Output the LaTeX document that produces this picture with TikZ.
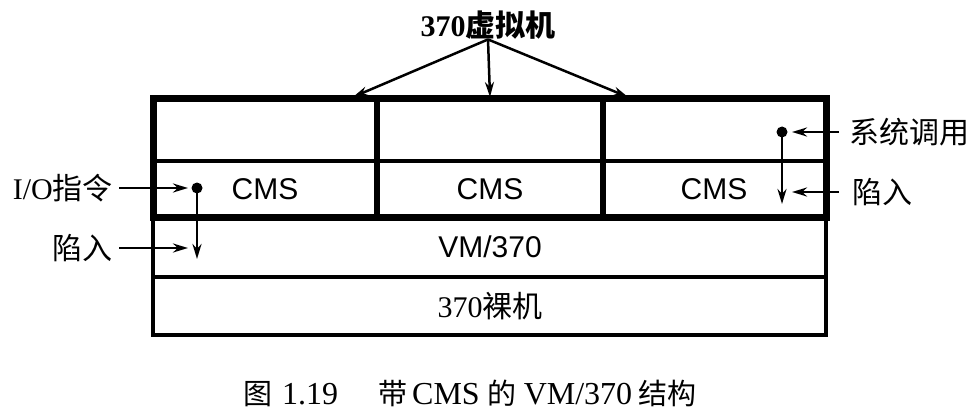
\documentclass[tikz,border=0pt]{standalone}
\usepackage{fontspec}
\setmainfont{Liberation Serif}
\setsansfont{Liberation Sans}
\newfontfamily\cjk{Noto Sans CJK SC}
\newcommand{\zh}[1]{{\cjk #1}}
\newcommand{\capzh}[1]{{\fontsize{29}{36}\selectfont\cjk #1}}
\usetikzlibrary{arrows.meta}
\begin{document}
\begin{tikzpicture}[x=1pt,y=-1pt,
  thickbox/.style={line width=7pt},
  thinline/.style={line width=4.4pt},
  arr/.style={-{Stealth[length=15pt,width=9pt]}, line width=2.5pt},
  lbl/.style={inner sep=0pt, font=\fontsize{30}{32}\selectfont},
  boxtxt/.style={inner sep=0pt, font=\sffamily\fontsize{30}{32}\selectfont},
  dotnode/.style={circle, fill=black, inner sep=0pt, minimum size=11pt}]
\useasboundingbox (0,0) rectangle (976,414);
% lower layers
\draw[thinline] (153,217) rectangle (826,277);
\draw[thinline] (153,277) rectangle (826,335);
% virtual machines
\draw[thinline] (153,161) -- (826,161);
\draw[line width=6pt] (377,99) -- (377,217);
\draw[line width=6pt] (603,99) -- (603,217);
\draw[thickbox] (153,99) rectangle (826,217);
% box texts
\node[boxtxt] (cms1) at (265,189) {CMS};
\node[boxtxt] (cms2) at (490,189) {CMS};
\node[boxtxt] (cms3) at (714,189) {CMS};
\node[boxtxt] (vm) at (490,247) {VM/370};
\node[lbl] (bare) at (490,306) {370\zh{裸机}};
% top label
\node[lbl, font=\bfseries\fontsize{30}{32}\selectfont] (top) at (488,25) {370\zh{虚拟机}};
\coordinate (a1) at (353,97);
\coordinate (a2) at (490,97);
\coordinate (a3) at (628,97);
\draw[arr] (top.south) -- (a1);
\draw[arr] (top.south) -- (a2);
\draw[arr] (top.south) -- (a3);
% left side
\node[lbl, anchor=east] (io) at (113,188) {I/O\zh{指令}};
\node[lbl, anchor=east] (trapL) at (113,248) {\zh{陷入}};
\node[dotnode] (d1) at (197,188) {};
\coordinate (io2) at (188,188);
\coordinate (tl2) at (188,248);
\coordinate (d1e) at (197,259);
\draw[arr] ([xshift=6pt]io.east) -- (io2);
\draw[arr] ([xshift=6pt]trapL.east) -- (tl2);
\draw[arr] (d1.center) -- (d1e);
% right side
\node[lbl, anchor=west] (sys) at (849,132) {\zh{系统调用}};
\node[lbl, anchor=west] (trapR) at (852,192) {\zh{陷入}};
\node[dotnode] (d2) at (782,132) {};
\coordinate (s2) at (792,132);
\coordinate (t2) at (792,192);
\coordinate (d2e) at (782,204);
\draw[arr] ([xshift=-10pt]sys.west) -- (s2);
\draw[arr] ([xshift=-13pt]trapR.west) -- (t2);
\draw[arr] (d2.center) -- (d2e);
% caption
\node[inner sep=0pt, anchor=west, font=\fontsize{32}{36}\selectfont] (cap) at (243,393)
  {\capzh{图}\hspace{10pt}1.19\hspace{40pt}\capzh{带}\hspace{5pt}CMS\hspace{8pt}\capzh{的}\hspace{7pt}VM/370\hspace{6pt}\capzh{结构}};
\end{tikzpicture}
\end{document}
